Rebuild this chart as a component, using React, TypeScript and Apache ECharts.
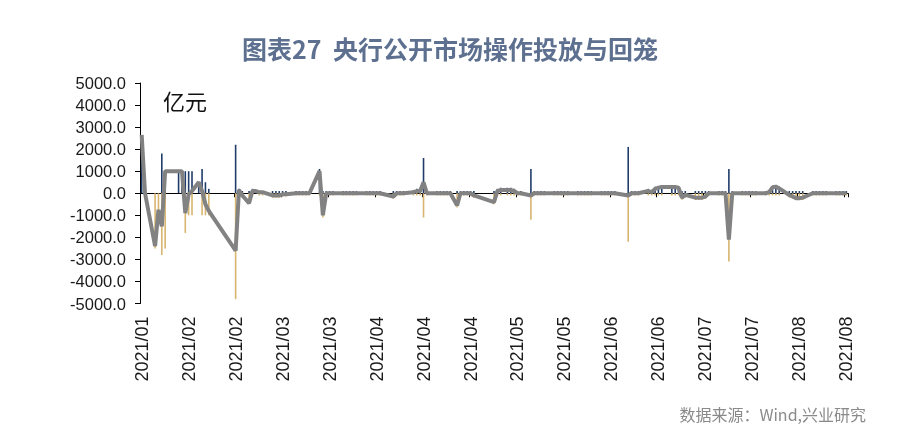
import React, { useEffect, useRef } from "react";
import * as echarts from "echarts";

// Trading days with PBOC open-market operations (calendar axis runs Jan 21 – Aug 19, 2021)
const tradeDates = [
  // Jan
  "2021-01-21", "2021-01-22", "2021-01-25", "2021-01-26", "2021-01-27", "2021-01-28", "2021-01-29",
  // Feb
  "2021-02-01", "2021-02-02", "2021-02-03", "2021-02-04", "2021-02-05", "2021-02-07", "2021-02-08", "2021-02-09",
  "2021-02-10", "2021-02-18", "2021-02-19", "2021-02-20", "2021-02-22", "2021-02-23", "2021-02-24", "2021-02-25",
  "2021-02-26",
  // Mar
  "2021-03-01", "2021-03-02", "2021-03-03", "2021-03-04", "2021-03-05", "2021-03-08", "2021-03-09", "2021-03-10",
  "2021-03-11", "2021-03-12", "2021-03-15", "2021-03-16", "2021-03-17", "2021-03-18", "2021-03-19", "2021-03-22",
  "2021-03-23", "2021-03-24", "2021-03-25", "2021-03-26", "2021-03-29", "2021-03-30", "2021-03-31",
  // Apr
  "2021-04-01", "2021-04-02", "2021-04-06", "2021-04-07", "2021-04-08", "2021-04-09", "2021-04-12", "2021-04-13",
  "2021-04-14", "2021-04-15", "2021-04-16", "2021-04-19", "2021-04-20", "2021-04-21", "2021-04-22", "2021-04-23",
  "2021-04-25", "2021-04-26", "2021-04-27", "2021-04-28", "2021-04-29", "2021-04-30",
  // May
  "2021-05-06", "2021-05-07", "2021-05-08", "2021-05-10", "2021-05-11", "2021-05-12", "2021-05-13", "2021-05-14",
  "2021-05-17", "2021-05-18", "2021-05-19", "2021-05-20", "2021-05-21", "2021-05-24", "2021-05-25", "2021-05-26",
  "2021-05-27", "2021-05-28", "2021-05-31",
  // Jun
  "2021-06-01", "2021-06-02", "2021-06-03", "2021-06-04", "2021-06-07", "2021-06-08", "2021-06-09", "2021-06-10",
  "2021-06-11", "2021-06-15", "2021-06-16", "2021-06-17", "2021-06-18", "2021-06-21", "2021-06-22", "2021-06-23",
  "2021-06-24", "2021-06-25", "2021-06-28", "2021-06-29", "2021-06-30",
  // Jul
  "2021-07-01", "2021-07-02", "2021-07-05", "2021-07-06", "2021-07-07", "2021-07-08", "2021-07-09", "2021-07-12",
  "2021-07-13", "2021-07-14", "2021-07-15", "2021-07-16", "2021-07-19", "2021-07-20", "2021-07-21", "2021-07-22",
  "2021-07-23", "2021-07-26", "2021-07-27", "2021-07-28", "2021-07-29", "2021-07-30",
  // Aug
  "2021-08-02", "2021-08-03", "2021-08-04", "2021-08-05", "2021-08-06", "2021-08-09", "2021-08-10", "2021-08-11",
  "2021-08-12", "2021-08-13", "2021-08-16", "2021-08-17", "2021-08-18", "2021-08-19",
];

// 投放 (亿元)
const injection = [
  2600, 0, 0, 0, 1800, 1000, 0,
  1000, 1000, 1000, 1000, 1000, 500, 1100, 500,
  200, 2200, 200, 100, 100, 200, 100, 100,
  100,
  100, 100, 100, 100, 100, 100, 100, 100,
  100, 100, 1100, 100, 100, 100, 100, 100,
  100, 100, 100, 100, 100, 100, 100,
  100, 100, 100, 100, 100, 100, 150, 200,
  200, 1600, 100, 100, 100, 100, 100, 100,
  100, 100, 100, 100, 100, 100,
  100, 200, 250, 250, 250, 200, 100, 100,
  1100, 100, 100, 100, 100, 100, 100, 100,
  100, 100, 100,
  100, 100, 100, 100, 100, 100, 100, 100,
  100, 2100, 100, 100, 100, 200, 150, 300,
  300, 300, 300, 300, 300,
  100, 100, 100, 100, 100, 100, 100, 100,
  100, 100, 1100, 100, 100, 100, 100, 100,
  100, 100, 150, 300, 300, 300,
  100, 100, 100, 100, 100, 100, 100, 100,
  100, 100, 100, 100, 100, 100,
];

// 回笼 (亿元)
const withdrawal = [
  0, 0, -2500, -800, -2800, -2500, 0,
  0, 0, -1800, -1000, -1000, 0, -1000, -1000,
  -1000, -4800, -100, -200, -500, -100, 0, -100,
  -100,
  -200, -200, -200, -150, -150, -100, -100, -100,
  -100, -100, -100, -1100, -100, -100, -100, -100,
  -100, -100, -100, -100, -100, -100, -100,
  -100, -100, -250, -100, -100, -100, -100, -100,
  -100, -1100, -100, -100, -100, -100, -100, -100,
  -650, -100, -100, -100, -100, -200,
  -500, -100, -100, -100, -100, -100, -100, -100,
  -1200, -100, -100, -100, -100, -100, -100, -100,
  -100, -100, -100,
  -100, -100, -100, -100, -100, -100, -100, -100,
  -100, -2200, -100, -100, -100, -100, -100, -100,
  -100, -100, -100, -100, -100,
  -300, -200, -300, -300, -300, -250, -100, -100,
  -100, -100, -3100, -100, -100, -100, -100, -100,
  -100, -100, -100, -100, -100, -100,
  -200, -250, -300, -300, -300, -100, -100, -100,
  -100, -100, -100, -100, -100, -100,
];

// 净投放 (亿元)
const netFlow = [
  2650, 0, -2400, -750, -1500, 1000, 1000,
  1000, 1000, -900, -50, 100, 500, 100, -500,
  -800, -2600, 150, -100, -450, 100, 100, 50,
  50,
  -100, -100, -100, -50, -50, 0, 0, 0,
  0, 0, 1000, -1000, 0, 0, 0, 0,
  0, 0, 0, 0, 0, 0, 0,
  0, 0, -150, 0, 0, 0, 50, 100,
  100, 500, 0, 0, 0, 0, 0, 0,
  -550, 0, 0, 0, 0, -100,
  -400, 100, 150, 150, 150, 100, 0, 0,
  -100, 0, 0, 0, 0, 0, 0, 0,
  0, 0, 0,
  0, 0, 0, 0, 0, 0, 0, 0,
  0, -100, 0, 0, 0, 100, 50, 200,
  250, 280, 280, 280, 250,
  -200, -70, -200, -200, -200, -150, 0, 0,
  0, 0, -2100, 0, 0, 0, 0, 0,
  0, 0, 50, 270, 300, 220,
  -80, -150, -230, -230, -200, 0, 0, 0,
  0, 0, 0, 0, 0, 0,
];

const axisStart = "2021-01-21";
const axisEnd = "2021-08-19";
const yMin = -5000;
const yMax = 5000;
const yStep = 1000;

function buildCalendar(start: string, end: string): string[] {
  const out: string[] = [];
  const d = new Date(start + "T00:00:00Z");
  const e = new Date(end + "T00:00:00Z");
  while (d.getTime() <= e.getTime()) {
    out.push(d.toISOString().slice(0, 10));
    d.setUTCDate(d.getUTCDate() + 1);
  }
  return out;
}

export default function App() {
  const ref = useRef<HTMLDivElement>(null);

  useEffect(() => {
    if (!ref.current) return;
    const chart = echarts.init(ref.current, null, { renderer: "svg" });

    const categories = buildCalendar(axisStart, axisEnd);
    const idx: Record<string, number> = {};
    tradeDates.forEach((d, i) => (idx[d] = i));
    const pick = (arr: number[]) =>
      categories.map((c) => (idx[c] === undefined ? null : arr[idx[c]]));

    const labelColor = "#1a1a1a";

    chart.setOption({
      animation: false,
      title: {
        text: "图表27  央行公开市场操作投放与回笼",
        left: "center",
        top: 30,
        textStyle: {
          fontFamily: "Noto Sans CJK SC",
          fontSize: 25,
          fontWeight: "bold",
          color: "#5e7090",
        },
      },
      grid: { left: 140, right: 52, top: 83, bottom: 134.5 },
      xAxis: [
        {
          type: "category",
          data: categories,
          position: "bottom",
          boundaryGap: true,
          axisLine: { show: true, onZero: true, lineStyle: { color: "#000", width: 1 } },
          axisTick: { show: true, interval: 13, length: 4, lineStyle: { color: "#000" } },
          axisLabel: { show: false },
          splitLine: { show: false },
        },
        {
          type: "category",
          data: categories,
          position: "bottom",
          boundaryGap: true,
          axisLine: { show: false, onZero: false },
          axisTick: { show: false },
          axisLabel: {
            show: true,
            interval: 13,
            rotate: 90,
            margin: 13,
            fontSize: 18,
            fontFamily: "Liberation Sans",
            color: labelColor,
            formatter: (v: string) => v.slice(0, 7).replace("-", "/"),
          },
          splitLine: { show: false },
        },
      ],
      yAxis: {
        type: "value",
        min: yMin,
        max: yMax,
        interval: yStep,
        axisLine: { show: true, lineStyle: { color: "#000", width: 1 } },
        axisTick: { show: true, length: 5, lineStyle: { color: "#000" } },
        splitLine: { show: false },
        axisLabel: {
          fontSize: 16.5,
          fontFamily: "Liberation Sans",
          color: labelColor,
          margin: 14,
          formatter: (v: number) => v.toFixed(1),
        },
      },
      series: [
        {
          name: "投放",
          type: "bar",
          xAxisIndex: 0,
          data: pick(injection),
          barWidth: 1.6,
          barGap: "-100%",
          itemStyle: { color: "#1f3c6b" },
        },
        {
          name: "回笼",
          type: "bar",
          xAxisIndex: 0,
          data: pick(withdrawal),
          barWidth: 1.6,
          barGap: "-100%",
          itemStyle: { color: "#d8b56f" },
        },
        {
          name: "净投放",
          type: "line",
          xAxisIndex: 0,
          data: pick(netFlow),
          connectNulls: true,
          showSymbol: false,
          symbol: "none",
          lineStyle: { color: "#828282", width: 4 },
        },
      ],
      graphic: [
        {
          type: "text",
          left: 163,
          top: 89,
          style: {
            text: "亿元",
            fontSize: 22,
            fontFamily: "Noto Sans CJK SC",
            fill: "#111",
          },
        },
        {
          type: "text",
          right: 34,
          top: 406,
          style: {
            text: "数据来源：Wind,兴业研究",
            fontSize: 16,
            fontFamily: "Noto Sans CJK SC",
            fill: "#8a8a8a",
          },
        },
      ],
    });

    return () => chart.dispose();
  }, []);

  return (
    <div
      ref={ref}
      style={{ position: "fixed", left: 0, top: 0, width: 900, height: 438 }}
    />
  );
}
